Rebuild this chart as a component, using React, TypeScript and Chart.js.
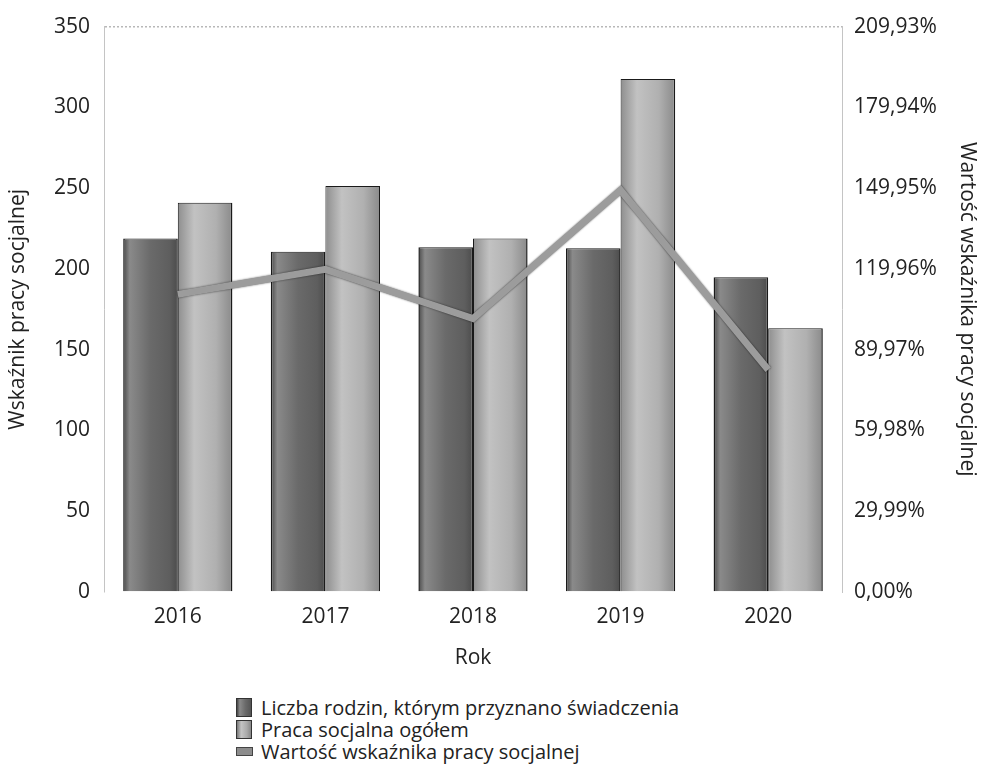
import React, { useEffect, useRef } from "react";
import { Chart, registerables } from "chart.js";

Chart.register(...registerables);

const categories = ["2016", "2017", "2018", "2019", "2020"];
const familiesValues = [218.9, 210.7, 213.4, 212.8, 194.9];
const socialWorkValues = [240.9, 251.4, 218.9, 317.5, 163.3];
const indicatorValues = [110.5, 119.8, 101.5, 149.2, 82.5];
const leftTicks = [0, 50, 100, 150, 200, 250, 300, 350];
const rightTicks = [0, 29.99, 59.98, 89.97, 119.96, 149.95, 179.94, 209.93];
const seriesNames = [
  "Liczba rodzin, którym przyznano świadczenia",
  "Praca socjalna ogółem",
  "Wartość wskaźnika pracy socjalnej",
];

const FONT = "'Open Sans', 'DejaVu Sans', sans-serif";
const CAT_PCT = 0.74;

function barGradient(c: any, dark: boolean) {
  const solid = dark ? "#707070" : "#ababab";
  const chart = c.chart;
  const xs = chart.scales && chart.scales.x;
  if (!xs || c.dataIndex == null || !isFinite(xs.width)) return solid;
  const center = xs.getPixelForValue(c.dataIndex);
  const gw = (xs.width / categories.length) * CAT_PCT;
  const x0 = dark ? center - gw / 2 : center;
  const g = chart.ctx.createLinearGradient(x0, 0, x0 + gw / 2, 0);
  if (dark) {
    g.addColorStop(0, "#4a4a4a");
    g.addColorStop(0.12, "#8a8a8a");
    g.addColorStop(0.5, "#6a6a6a");
    g.addColorStop(0.85, "#5e5e5e");
    g.addColorStop(1, "#4c4c4c");
  } else {
    g.addColorStop(0, "#8e8e8e");
    g.addColorStop(0.3, "#c2c2c2");
    g.addColorStop(0.7, "#b0b0b0");
    g.addColorStop(1, "#8a8a8a");
  }
  return g;
}

const shadowPlugin = {
  id: "lineShadow",
  beforeDatasetDraw(chart: any, args: any) {
    if (args.index === 2) {
      chart.ctx.save();
      chart.ctx.shadowColor = "rgba(0,0,0,0.65)";
      chart.ctx.shadowBlur = 2;
    }
  },
  afterDatasetDraw(chart: any, args: any) {
    if (args.index === 2) chart.ctx.restore();
  },
};

const fmtPct = (v: number) => v.toFixed(2).replace(".", ",") + "%";

export default function App() {
  const ref = useRef<HTMLCanvasElement | null>(null);

  useEffect(() => {
    if (!ref.current) return;
    const chart = new Chart(ref.current, {
      type: "bar",
      data: {
        labels: categories,
        datasets: [
          {
            type: "bar",
            label: seriesNames[0],
            data: familiesValues,
            backgroundColor: (c: any) => barGradient(c, true),
            borderColor: "#1a1a1a",
            borderWidth: { left: 1.5, right: 1.5, top: 1, bottom: 0 } as any,
            yAxisID: "y",
            order: 1,
            barPercentage: 1,
            categoryPercentage: CAT_PCT,
          },
          {
            type: "bar",
            label: seriesNames[1],
            data: socialWorkValues,
            backgroundColor: (c: any) => barGradient(c, false),
            borderColor: "#1a1a1a",
            borderWidth: { left: 1, right: 1.5, top: 1, bottom: 0 } as any,
            yAxisID: "y",
            order: 1,
            barPercentage: 1,
            categoryPercentage: CAT_PCT,
          },
          {
            type: "line",
            label: seriesNames[2],
            data: indicatorValues,
            borderColor: "#9c9c9c",
            backgroundColor: "#9c9c9c",
            borderWidth: 7,
            pointRadius: 0,
            tension: 0,
            yAxisID: "y1",
            order: 0,
          } as any,
        ],
      },
      options: {
        animation: false,
        responsive: false,
        layout: { padding: { top: 24, left: 0, right: 0, bottom: 0 } },
        plugins: {
          legend: { display: false },
          tooltip: { enabled: false },
        },
        scales: {
          x: {
            grid: { display: false, drawTicks: false },
            border: { display: false },
            ticks: {
              color: "#222",
              font: { family: FONT, size: 21 },
              padding: 12,
            },
            title: {
              display: true,
              text: "Rok",
              color: "#222",
              font: { family: FONT, size: 21 },
              padding: { top: 0, bottom: 19 },
            },
            afterFit: (s: any) => {
              s.height = 98;
            },
          },
          y: {
            position: "left",
            min: 0,
            max: 350,
            afterBuildTicks: (s: any) => {
              s.ticks = leftTicks.map((v) => ({ value: v }));
            },
            grid: {
              drawTicks: false,
              color: (c: any) => (c.tick && c.tick.value === 350 ? "#b8b8b8" : "rgba(0,0,0,0)"),
              lineWidth: 1.5,
            },
            border: { display: true, color: "#c4c4c4", dash: [2, 2] },
            ticks: {
              color: "#222",
              font: { family: FONT, size: 21 },
              padding: 14,
            },
            title: {
              display: true,
              text: "Wskaźnik pracy socjalnej",
              color: "#222",
              font: { family: FONT, size: 21 },
              padding: { top: 5, bottom: 0 },
            },
            afterFit: (s: any) => {
              s.width = 104;
            },
          },
          y1: {
            position: "right",
            min: 0,
            max: 209.93,
            afterBuildTicks: (s: any) => {
              s.ticks = rightTicks.map((v) => ({ value: v }));
            },
            grid: { display: false, drawTicks: false },
            border: { display: true, color: "#c4c4c4", dash: [2, 2] },
            ticks: {
              color: "#222",
              font: { family: FONT, size: 21 },
              padding: 12,
              callback: (v: any) => fmtPct(Number(v)),
            },
            title: {
              display: true,
              text: "Wartość wskaźnika pracy socjalnej",
              color: "#222",
              font: { family: FONT, size: 21 },
              padding: { top: 4, bottom: 0 },
            },
            afterFit: (s: any) => {
              s.width = 142;
            },
          },
        },
      },
      plugins: [shadowPlugin],
    } as any);
    return () => chart.destroy();
  }, []);

  const box = (i: number) => {
    if (i === 2) {
      return (
        <span
          style={{
            display: "inline-block",
            width: 15,
            height: 7,
            background: "#8c8c8c",
            border: "1px solid #444",
            marginRight: 8,
            verticalAlign: "middle",
          }}
        />
      );
    }
    return (
      <span
        style={{
          display: "inline-block",
          width: 14,
          height: 17,
          background:
            i === 0
              ? "linear-gradient(90deg,#444,#8a8a8a 20%,#6a6a6a 60%,#555)"
              : "linear-gradient(90deg,#777,#c4c4c4 30%,#aaa 70%,#888)",
          border: "1px solid #333",
          marginRight: 9,
          verticalAlign: "middle",
        }}
      />
    );
  };

  return (
    <div style={{ position: "absolute", left: 0, top: 0, width: 984, height: 769, background: "#fff" }}>
      <canvas ref={ref} width={984} height={690} style={{ display: "block" }} />
      <div
        style={{
          position: "absolute",
          left: 236,
          top: 695,
          fontFamily: FONT,
          fontSize: 20,
          color: "#222",
          lineHeight: "22px",
        }}
      >
        {seriesNames.map((n, i) => (
          <div key={n} style={{ whiteSpace: "nowrap", height: 22 }}>
            {box(i)}
            <span style={{ verticalAlign: "middle" }}>{n}</span>
          </div>
        ))}
      </div>
    </div>
  );
}
